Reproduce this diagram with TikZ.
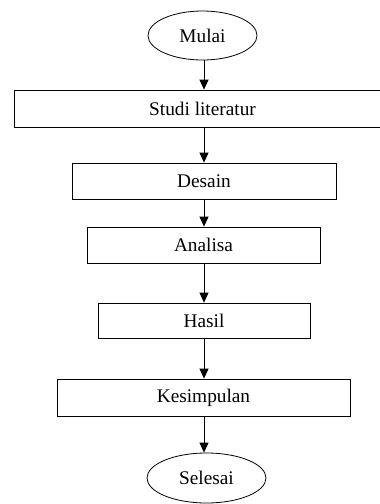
\documentclass[tikz,border=0pt]{standalone}
\usepackage{fontspec}
\setmainfont{Liberation Serif}
\usetikzlibrary{shapes.geometric,arrows.meta}
\begin{document}
\begin{tikzpicture}[x=1pt,y=-1pt,
  every node/.style={font=\fontsize{19.3}{23}\selectfont, inner sep=0pt, line width=0.8pt},
  procbox/.style={draw, rectangle},
  term/.style={draw, ellipse},
  arr/.style={line width=0.8pt, -{Triangle[width=9pt,length=10pt]}}]
\clip (0,0) rectangle (380,504);
\fill[white] (0,0) rectangle (380,504);
\node[term, minimum width=109pt, minimum height=49pt] (mulai) at (202.5,35.5) {Mulai};
\node[procbox, minimum width=377pt, minimum height=37pt] (studi) at (202.5,108.5) {Studi literatur};
\node[procbox, minimum width=264pt, minimum height=36pt] (desain) at (204,181) {Desain};
\node[procbox, minimum width=233pt, minimum height=36pt] (analisa) at (203.5,245) {Analisa};
\node[procbox, minimum width=212pt, minimum height=35pt] (hasil) at (204,320.5) {Hasil};
\node[procbox, minimum width=293pt, minimum height=37pt] (kesimpulan) at (203.5,397.5) {Kesimpulan};
\node[term, minimum width=119pt, minimum height=50pt] (selesai) at (206.5,478) {Selesai};
\coordinate (ax) at (204,0);
\draw[arr] (mulai.south -| ax) -- (studi.north -| ax);
\draw[arr] (studi.south -| ax) -- (desain.north -| ax);
\draw[arr] (desain.south -| ax) -- (analisa.north -| ax);
\draw[arr] (analisa.south -| ax) -- (hasil.north -| ax);
\draw[arr] (hasil.south -| ax) -- (kesimpulan.north -| ax);
\draw[arr] (kesimpulan.south -| ax) -- (selesai.north -| ax);
\end{tikzpicture}
\end{document}
